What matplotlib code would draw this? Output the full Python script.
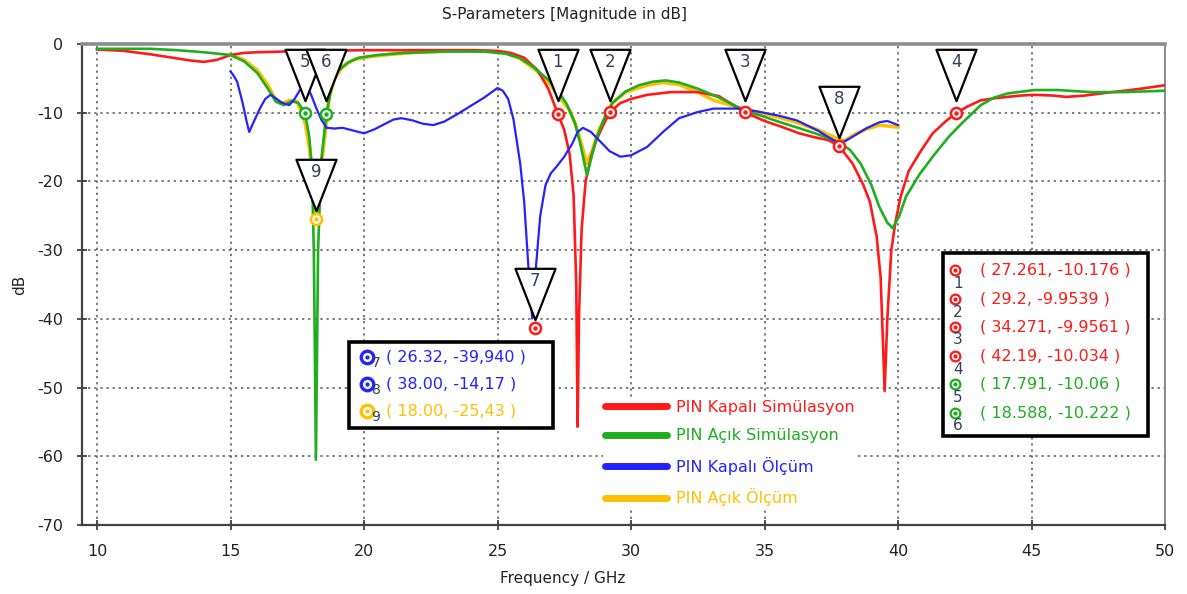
import matplotlib
matplotlib.use("Agg")
import matplotlib.pyplot as plt
from matplotlib.path import Path
from matplotlib.lines import Line2D
from matplotlib.patches import Rectangle
import matplotlib.transforms as mtransforms

plt.rcParams['font.family'] = ['DejaVu Sans']
plt.rcParams['axes.unicode_minus'] = False

# --- data (frequency in GHz, magnitude in dB) ---
red_f = [10.0, 11.0, 12.0, 13.0, 13.5, 14.0, 14.5, 15.0, 15.5, 16.0, 17.0, 18.0, 20.0, 22.0,
         24.0, 25.0, 25.5, 26.0, 26.5, 26.9, 27.261, 27.5, 27.7, 27.85, 27.95, 28.0, 28.05,
         28.15, 28.3, 28.5, 28.7, 29.0, 29.2, 29.6, 30.0, 30.6, 31.5, 32.5, 33.3, 34.271,
         35.0, 35.6, 36.3, 36.8, 37.4, 37.8, 38.3, 38.7, 38.95, 39.2, 39.35, 39.5, 39.6,
         39.75, 39.9, 40.1, 40.4, 40.8, 41.3, 41.8, 42.19, 42.6, 43.1, 43.6, 44.1, 44.6,
         45.1, 45.8, 46.3, 47.0, 47.8, 48.5, 49.3, 50.0]
red_db = [-0.8, -1.0, -1.5, -2.1, -2.4, -2.6, -2.3, -1.6, -1.3, -1.2, -1.1, -1.0, -0.9, -0.9,
          -0.9, -1.0, -1.3, -2.0, -3.8, -6.5, -10.176, -12.5, -16.0, -22.0, -35.0, -55.7, -40.0,
          -27.0, -20.0, -16.5, -14.0, -11.5, -9.954, -8.6, -8.0, -7.4, -7.0, -7.0, -7.6, -9.956,
          -11.2, -12.0, -13.0, -13.5, -14.0, -14.9, -17.4, -20.5, -23.0, -28.0, -34.0, -50.5, -40.0,
          -30.0, -26.0, -22.2, -18.5, -15.9, -13.0, -11.2, -10.034, -9.1, -8.2, -7.9, -7.7, -7.5,
          -7.4, -7.5, -7.7, -7.5, -7.1, -6.8, -6.4, -6.0]

green_f = [10.0, 11.0, 12.0, 13.0, 14.0, 15.0, 15.5, 16.0, 16.4, 16.7, 17.0, 17.3, 17.55, 17.791,
           17.95, 18.05, 18.12, 18.2, 18.28, 18.4, 18.588, 18.8, 19.0, 19.4, 19.8, 20.5, 21.5,
           23.0, 24.5, 25.3, 25.8, 26.3, 26.9, 27.3, 27.6, 27.9, 28.1, 28.35, 28.55, 28.7, 29.0,
           29.3, 29.8, 30.3, 30.8, 31.3, 31.8, 32.5, 33.3, 34.2, 35.0, 35.6, 36.5, 37.2, 37.8,
           38.2, 38.6, 39.0, 39.3, 39.6, 39.8, 40.05, 40.3, 40.8, 41.3, 41.9, 42.4, 43.1, 43.6,
           44.1, 45.1, 46.0, 47.2, 48.5, 50.0]
green_db = [-0.7, -0.7, -0.7, -0.9, -1.2, -1.6, -2.5, -4.2, -6.5, -8.4, -8.9, -8.3, -8.6, -10.06,
            -13.5, -18.0, -30.0, -60.5, -30.0, -17.0, -10.222, -6.0, -4.0, -2.7, -2.0, -1.6, -1.3,
            -1.1, -1.1, -1.4, -2.0, -3.2, -5.2, -7.0, -8.8, -11.5, -14.5, -19.1, -16.0, -13.8, -10.8,
            -8.6, -6.9, -6.0, -5.5, -5.3, -5.6, -6.5, -7.8, -9.6, -10.6, -11.4, -12.5, -13.4, -14.3,
            -15.4, -17.4, -20.5, -23.7, -26.0, -26.8, -25.0, -22.2, -19.0, -16.4, -13.5, -11.5, -8.9, -7.8,
            -7.2, -6.7, -6.7, -7.0, -7.0, -6.8]

blue_f = [15.0, 15.1, 15.25, 15.45, 15.6, 15.7, 15.85, 16.1, 16.3, 16.5, 16.7, 16.9, 17.2, 17.4,
          17.6, 17.8, 18.0, 18.2, 18.4, 18.6, 18.9, 19.2, 19.6, 20.0, 20.4, 20.8, 21.1, 21.4,
          21.8, 22.2, 22.6, 23.0, 23.5, 24.0, 24.5, 25.0, 25.2, 25.4, 25.6, 25.85, 26.0, 26.15,
          26.3, 26.45, 26.6, 26.8, 27.0, 27.2, 27.5, 27.8, 28.0, 28.2, 28.5, 28.8, 29.2, 29.6,
          30.0, 30.6, 31.2, 31.8, 32.5, 33.1, 34.0, 34.7, 35.5, 36.2, 37.0, 37.7, 38.0, 38.3,
          38.8, 39.3, 39.6, 40.0]
blue_db = [-4.0, -4.5, -5.5, -8.5, -11.2, -12.8, -11.5, -9.4, -8.0, -7.4, -7.9, -8.5, -8.9, -8.0,
           -6.7, -6.2, -7.2, -9.2, -11.0, -12.2, -12.3, -12.2, -12.6, -13.0, -12.4, -11.6, -11.0, -10.8,
           -11.1, -11.6, -11.8, -11.3, -10.2, -9.0, -7.8, -6.4, -6.8, -8.0, -11.0, -17.4, -23.0, -32.0,
           -39.94, -32.0, -25.0, -20.5, -18.8, -17.9, -16.4, -14.5, -12.8, -12.2, -12.8, -14.0, -15.6, -16.4,
           -16.2, -15.0, -12.8, -10.8, -9.9, -9.4, -9.4, -9.8, -10.4, -11.1, -12.6, -14.3, -14.17, -13.5,
           -12.3, -11.4, -11.2, -11.8]

yellow_f = [15.0, 15.5, 16.0, 16.4, 16.7, 17.0, 17.2, 17.5, 17.8, 17.95, 18.05, 18.2, 18.35, 18.5,
            18.7, 18.9, 19.2, 19.6, 20.1, 21.0, 22.0, 23.5, 24.5, 25.3, 25.85, 26.5, 27.0, 27.3,
            27.7, 27.95, 28.1, 28.35, 28.55, 28.8, 29.3, 29.8, 30.6, 31.2, 31.8, 32.5, 33.1, 34.2,
            35.2, 36.2, 37.0, 37.7, 38.0, 38.3, 38.8, 39.3, 40.0]
yellow_db = [-1.6, -2.3, -3.8, -6.0, -8.2, -8.6, -8.2, -8.4, -11.5, -15.0, -18.5, -25.43, -19.0, -14.5,
             -7.7, -5.0, -3.3, -2.3, -1.9, -1.5, -1.2, -1.0, -1.0, -1.3, -2.1, -4.0, -6.0, -7.7,
             -9.6, -12.0, -14.0, -17.4, -15.5, -12.5, -8.6, -7.0, -6.0, -5.6, -5.9, -7.0, -8.2, -9.4,
             -10.3, -11.4, -12.5, -13.7, -14.1, -13.3, -12.4, -11.8, -12.1]

series_names = ["PIN Kapalı Simülasyon", "PIN Açık Simülasyon", "PIN Kapalı Ölçüm", "PIN Açık Ölçüm"]

# markers: id, position drawn on the chart, colour of the circle
marker_ids = ["1", "2", "3", "4", "5", "6", "7", "8", "9"]
marker_x = [27.261, 29.2, 34.271, 42.19, 17.791, 18.588, 26.4, 37.8, 18.2]
marker_y = [-10.176, -9.954, -9.956, -10.034, -10.06, -10.222, -41.3, -14.9, -25.43]

# marker readouts as shown in the two boxes
box_right_ids = ["1", "2", "3", "4", "5", "6"]
box_right_text = ["( 27.261, -10.176 )", "( 29.2, -9.9539 )", "( 34.271, -9.9561 )",
                  "( 42.19, -10.034 )", "( 17.791, -10.06 )", "( 18.588, -10.222 )"]
box_left_ids = ["7", "8", "9"]
box_left_text = ["( 26.32, -39,940 )", "( 38.00, -14,17 )", "( 18.00, -25,43 )"]

RED, GREEN, BLUE, YELLOW = "#ff1a1a", "#1fae1f", "#2323ff", "#ffc000"
marker_colors = [RED, RED, RED, RED, GREEN, GREEN, RED, RED, YELLOW]
box_right_colors = [RED, RED, RED, RED, GREEN, GREEN]
box_left_colors = [BLUE, BLUE, YELLOW]
NUMC = "#34405a"

W, H = 1187, 594


def fx(px):
    return px / W


def fy(py):
    return 1 - py / H


fig = plt.figure(figsize=(W / 100, H / 100), dpi=100)
ax = fig.add_axes([fx(82), fy(525), fx(1165) - fx(82), fy(44) - fy(525)])

ax.plot(red_f, red_db, color=RED, lw=1.9, zorder=3)
ax.plot(green_f, green_db, color=GREEN, lw=1.9, zorder=3)
ax.plot(blue_f, blue_db, color=BLUE, lw=1.6, zorder=3)
ax.plot(yellow_f, yellow_db, color=YELLOW, lw=2.6, zorder=2.9)

ax.set_xlim(10 - 15 / 26.7, 50)
ax.set_ylim(-70, 0)
ax.set_xticks(range(10, 51, 5))
ax.set_yticks(range(-70, 1, 10))
ax.grid(True, color="#555555", linestyle=(0, (1.5, 2.5)), lw=1.1)
ax.tick_params(direction="inout", length=7, width=1.2, colors="#333333", labelsize=11.5,
               labelcolor="#222222")
ax.tick_params(axis="x", pad=10)
ax.tick_params(axis="y", pad=10)
for side in ("left", "bottom"):
    ax.spines[side].set_color("#444444")
    ax.spines[side].set_linewidth(1.6)
ax.spines["top"].set_color("#8c8c8c")
ax.spines["top"].set_linewidth(2.6)
ax.spines["right"].set_color("#8c8c8c")
ax.spines["right"].set_linewidth(1.4)

fig.text(fx(565), fy(15), "S-Parameters [Magnitude in dB]", ha="center", va="center",
         fontsize=11, color="#222222")
fig.text(fx(563), fy(578), "Frequency / GHz", ha="center", va="center", fontsize=11,
         color="#222222")
fig.text(fx(20), fy(285), "dB", ha="center", va="center", rotation=90, fontsize=11,
         color="#222222")

# marker circles on the curves
for x, y, c in zip(marker_x, marker_y, marker_colors):
    ax.plot(x, y, marker="o", ms=8, mfc="white", mec=c, mew=1.8, zorder=6)
    ax.plot(x, y, marker="o", ms=2.2, mfc=c, mec=c, zorder=7)

# inverted triangle flags
tri = Path([(-0.39, 0.5), (0.39, 0.5), (0.0, -0.5), (-0.39, 0.5)],
           [Path.MOVETO, Path.LINETO, Path.LINETO, Path.CLOSEPOLY])
top_tr = mtransforms.blended_transform_factory(ax.transData, ax.transAxes)
for i, (mid, x, y) in enumerate(zip(marker_ids, marker_x, marker_y)):
    if i < 6:
        tr = top_tr
        ty, ny = 1 - 31 / 481, 1 - 18 / 481
        ax.plot(x, ty, marker=tri, ms=37, mfc="white", mec="black", mew=1.6,
                transform=tr, zorder=8, clip_on=False)
        ax.text(x, ny, mid, transform=tr, ha="center", va="center", fontsize=12,
                color=NUMC, zorder=9)
    else:
        tr = ax.transData + mtransforms.ScaledTranslation(0, 0.34, fig.dpi_scale_trans)
        tr_n = ax.transData + mtransforms.ScaledTranslation(0, 0.47, fig.dpi_scale_trans)
        ax.plot(x, y, marker=tri, ms=37, mfc="white", mec="black", mew=1.6,
                transform=tr, zorder=8, clip_on=False)
        ax.text(x, y, mid, transform=tr_n, ha="center", va="center", fontsize=12,
                color=NUMC, zorder=9)

# legend
handles = [Line2D([], [], color=c, lw=5, solid_capstyle="round") for c in (RED, GREEN, BLUE, YELLOW)]
leg = ax.legend(handles, series_names, loc="upper left", bbox_to_anchor=(fx(603), fy(398)),
                bbox_transform=fig.transFigure, frameon=True, facecolor="white",
                edgecolor="none", framealpha=1, fancybox=False, fontsize=11.5,
                borderaxespad=0, borderpad=0.1, handlelength=3.9, handletextpad=0.6,
                labelspacing=0.85, labelcolor="linecolor")
leg.set_zorder(10)

# readout boxes


def readout_box(x0, y0, x1, y1, rows, ids, texts, colors, icon_ms, text_x, big):
    fig.patches.append(Rectangle((fx(x0), fy(y1)), fx(x1) - fx(x0), fy(y0) - fy(y1),
                                 transform=fig.transFigure, fill=True, fc="white",
                                 ec="black", lw=2.6, zorder=11))
    for py, mid, t, c in zip(rows, ids, texts, colors):
        ix = x0 + (18 if big else 12)
        fig.lines.append(Line2D([fx(ix)], [fy(py)], marker="o", ms=icon_ms, mfc="white",
                                mec=c, mew=2.4 if big else 1.6,
                                transform=fig.transFigure, zorder=12))
        fig.lines.append(Line2D([fx(ix)], [fy(py)], marker="o", ms=2, mfc=c, mec=c,
                                transform=fig.transFigure, zorder=13))
        if big:
            fig.text(fx(ix + 9), fy(py + 6), mid, fontsize=10, color=NUMC, ha="center",
                     va="center", zorder=13)
        else:
            fig.text(fx(ix + 3), fy(py + 13), mid, fontsize=11, color=NUMC, ha="center",
                     va="center", zorder=13)
        fig.text(fx(text_x), fy(py), t, fontsize=11.5, color=c, ha="left", va="center",
                 zorder=13)


readout_box(349, 342, 553, 428, [357, 384, 411], box_left_ids, box_left_text,
            box_left_colors, 9, 386, True)
readout_box(943, 253, 1148, 436, [270, 299, 327, 356, 384, 413], box_right_ids,
            box_right_text, box_right_colors, 7, 980, False)

fig.savefig("out.png", dpi=100)
